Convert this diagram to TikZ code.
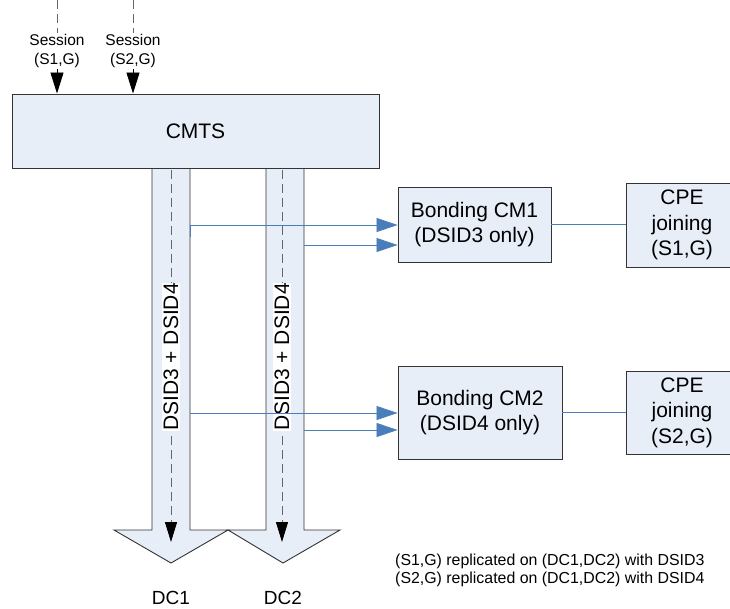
\documentclass[tikz,border=0pt]{standalone}
\usepackage{fontspec}
\setmainfont{Liberation Sans}
\usepackage{xcolor}
\usepackage{tikz}
\usetikzlibrary{arrows.meta}
\definecolor{boxfill}{HTML}{E8EEF8}
\definecolor{linkblue}{HTML}{4A7EBB}

\begin{document}
\begin{tikzpicture}[
    x=1pt, y=-1pt,
    box/.style={draw=black!80, line width=0.9pt, fill=boxfill, align=center, inner sep=0pt, font=\fontsize{21}{25.5}\selectfont},
    sess/.style={align=center, inner sep=1pt, font=\fontsize{15.5}{19}\selectfont},
    feed/.style={draw=black!60, line width=1pt, dash pattern=on 9pt off 5pt},
    inarr/.style={-{Triangle[length=21pt, width=13pt]}, black, line width=0.8pt},
    downarr/.style={feed, -{Triangle[length=20pt, width=12pt, color=black]}},
    flow/.style={draw=black!80, line width=0.9pt, fill=boxfill},
    dsid/.style={rotate=90, fill=white, inner xsep=0pt, inner ysep=2pt, font=\fontsize{21}{25}\selectfont},
    link/.style={draw=linkblue, line width=0.8pt},
    linkarr/.style={link, -{Triangle[length=21pt, width=14pt]}},
    dclabel/.style={font=\fontsize{19}{22}\selectfont}
  ]
    \useasboundingbox (0,0) rectangle (730,608);
    % downstream channels
    \draw[flow] (152,168) -- (152,530) -- (114,530) -- (171,563) -- (228,530) -- (190,530) -- (190,168) -- cycle;
    \draw[flow] (266,168) -- (266,530) -- (228,530) -- (283,563) -- (340,530) -- (304,530) -- (304,168) -- cycle;

    \node[box, minimum width=367pt, minimum height=74pt] (cmts) at (195.5,131) {CMTS};

    % sessions
    \coordinate (top1) at (57,0);
    \coordinate (top2) at (133,0);
    \node[sess] (ses1) at (57,51) {Session\\(S1,G)};
    \node[sess] (ses2) at (133,51) {Session\\(S2,G)};
    \draw[feed] (top1) -- (ses1);
    \draw[feed] (top2) -- (ses2);
    \draw[inarr] (ses1) -- (ses1 |- cmts.north);
    \draw[inarr] (ses2) -- (ses2 |- cmts.north);

    % replication on DC1, DC2
    \coordinate (d1top) at (171,170);
    \coordinate (d1end) at (171,542);
    \coordinate (d2top) at (282,170);
    \coordinate (d2end) at (282,542);
    \draw[downarr] (d1top) -- (d1end);
    \draw[downarr] (d2top) -- (d2end);
    \node[dsid] (lab1) at (171,357) {DSID3 + DSID4};
    \node[dsid] (lab2) at (282,357) {DSID3 + DSID4};
    \node[dclabel] (dc1) at (171,598) {DC1};
    \node[dclabel] (dc2) at (283,598) {DC2};

    % cable modems and CPEs
    \node[box, minimum width=153pt, minimum height=75pt] (cm1) at (474.5,224.5) {Bonding CM1\\(DSID3 only)};
    \node[box, minimum width=164pt, minimum height=93pt] (cm2) at (480,412.5) {Bonding CM2\\(DSID4 only)};
    \node[box, minimum width=112pt, minimum height=84pt] (cpe1) at (682,225) {CPE\\joining\\(S1,G)};
    \node[box, minimum width=112pt, minimum height=83pt] (cpe2) at (682,412.5) {CPE\\joining\\(S2,G)};

    \coordinate (t1) at (190,237);
    \coordinate (e1) at (190,225);
    \coordinate (e2) at (304,245);
    \coordinate (e3) at (190,413);
    \coordinate (e4) at (304,430);
    \draw[linkarr] (t1) -- (e1) -- (cm1.west |- e1);
    \draw[linkarr] (e2) -- (cm1.west |- e2);
    \draw[linkarr] (e3) -- (cm2.west |- e3);
    \draw[linkarr] (e4) -- (cm2.west |- e4);
    \draw[link] (cm1.east) -- (cm1.east -| cpe1.west);
    \draw[link] (cm2.east) -- (cm2.east -| cpe2.west);

    \node[anchor=north west, align=left, inner sep=0pt, font=\fontsize{15.9}{17.5}\selectfont] (note) at (395,554) {(S1,G) replicated on (DC1,DC2) with DSID3\\(S2,G) replicated on (DC1,DC2) with DSID4};
\end{tikzpicture}
\end{document}
